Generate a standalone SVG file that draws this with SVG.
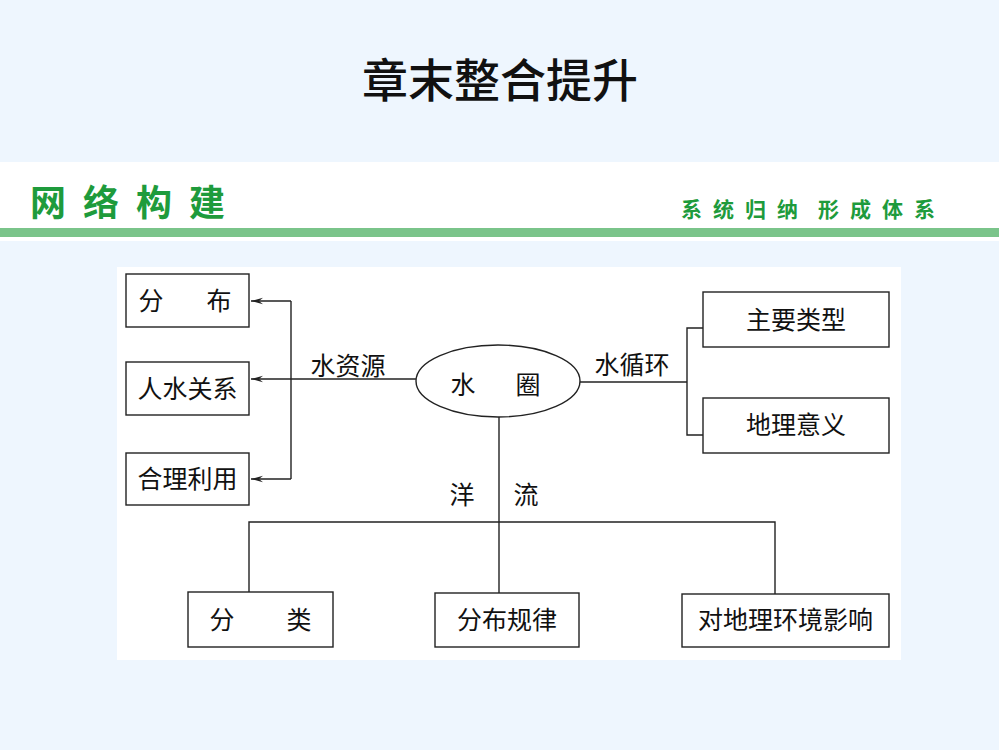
<svg xmlns="http://www.w3.org/2000/svg" width="999" height="750" viewBox="0 0 999 750">
<defs>
<style>
.bg{fill:#EEF6FE}
.box{fill:#fff;stroke:#222;stroke-width:1.4}
.ln{fill:none;stroke:#222;stroke-width:1.4}
.t{font-family:"Noto Sans CJK SC","Liberation Sans",sans-serif;font-size:25px;fill:#111;text-anchor:middle}
.g{font-family:"Noto Sans CJK SC","Liberation Sans",sans-serif;fill:#1E9B3C;font-weight:bold}
</style>
<marker id="arr" viewBox="0 0 12 8" refX="12" refY="4" markerWidth="12" markerHeight="8" orient="auto" markerUnits="userSpaceOnUse">
<path d="M12,4 L0,0.8 L4,4 L0,7.2 Z" fill="#222"/>
</marker>
</defs>
<rect class="bg" x="0" y="0" width="999" height="750"/>
<text x="500" y="97" font-family="Noto Sans CJK SC, sans-serif" font-size="46" font-weight="500" fill="#111" text-anchor="middle">章末整合提升</text>
<rect x="0" y="162" width="999" height="79" fill="#fff"/>
<rect x="0" y="228" width="999" height="9" fill="#7AC48A"/>
<text class="g" x="30" y="216" font-size="36" letter-spacing="17">网络构建</text>
<text class="g" x="681" y="217" font-size="21" letter-spacing="11">系统归纳</text>
<text class="g" x="818" y="217" font-size="21" letter-spacing="11">形成体系</text>
<rect x="117" y="267" width="784" height="393" fill="#fff"/>

<g id="connectors">
<path class="ln" d="M416,379 H251" marker-end="url(#arr)"/>
<path class="ln" d="M291,301 V479"/>
<path class="ln" d="M291,301 H251" marker-end="url(#arr)"/>
<path class="ln" d="M291,479 H251" marker-end="url(#arr)"/>
<path class="ln" d="M580,382 H687"/>
<path class="ln" d="M703,328 H687 V435 H703"/>
<path class="ln" d="M499,417 V593"/>
<path class="ln" d="M249,592 V522 H775 V594"/>
</g>

<g id="center">
<ellipse cx="498" cy="381" rx="82" ry="36" class="box"/>
<text class="t" x="463" y="394">水</text>
<text class="t" x="528" y="394">圈</text>
</g>
<g id="label-shuiziyuan"><text class="t" x="348" y="375">水资源</text></g>
<g id="label-shuixunhuan"><text class="t" x="632" y="374">水循环</text></g>
<g id="label-yangliu">
<text class="t" x="462" y="504">洋</text>
<text class="t" x="526" y="504">流</text>
</g>

<g id="n-fenbu">
<rect class="box" x="126" y="274" width="123" height="53"/>
<text class="t" x="151" y="310">分</text>
<text class="t" x="219" y="310">布</text>
</g>
<g id="n-renshui">
<rect class="box" x="126" y="362" width="123" height="53"/>
<text class="t" x="187.5" y="398">人水关系</text>
</g>
<g id="n-heli">
<rect class="box" x="126" y="453" width="123" height="52"/>
<text class="t" x="187.5" y="488">合理利用</text>
</g>
<g id="n-zhuyao">
<rect class="box" x="703" y="292" width="186" height="55"/>
<text class="t" x="796" y="329">主要类型</text>
</g>
<g id="n-dili">
<rect class="box" x="703" y="398" width="186" height="55"/>
<text class="t" x="796" y="434">地理意义</text>
</g>
<g id="n-fenlei">
<rect class="box" x="188" y="592" width="145" height="55"/>
<text class="t" x="222" y="629">分</text>
<text class="t" x="299" y="629">类</text>
</g>
<g id="n-guilv">
<rect class="box" x="435" y="593" width="144" height="54"/>
<text class="t" x="507" y="629">分布规律</text>
</g>
<g id="n-yingxiang">
<rect class="box" x="682" y="594" width="207" height="53"/>
<text class="t" x="785.5" y="629">对地理环境影响</text>
</g>
</svg>
